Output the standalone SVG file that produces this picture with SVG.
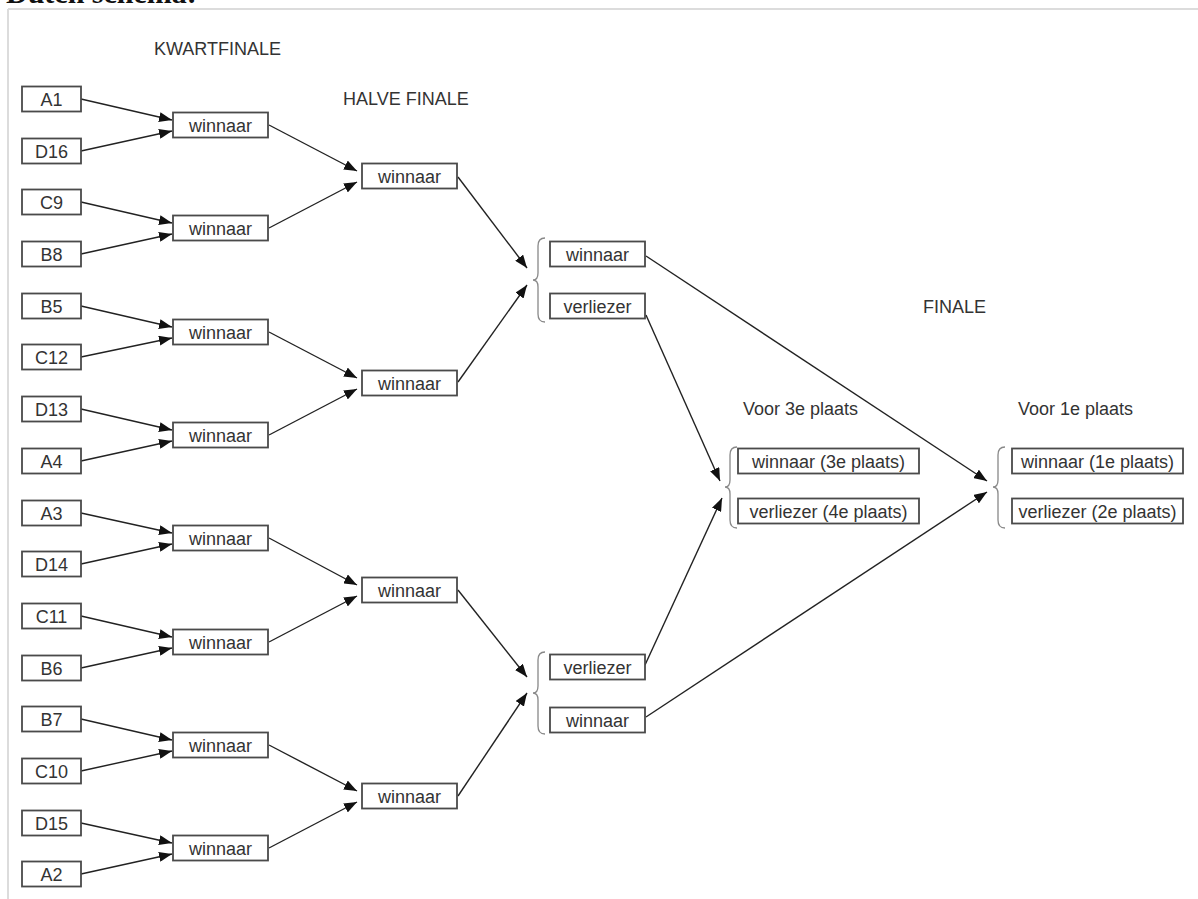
<svg xmlns="http://www.w3.org/2000/svg" width="1198" height="899" viewBox="0 0 1198 899">
<style>
.t{font-family:"Liberation Sans",Arial,sans-serif;font-size:18px;fill:#333}
.c{text-anchor:middle}
.b{fill:#fff;stroke:#4a4a4a;stroke-width:1.8}
.l{fill:none;stroke:#222;stroke-width:1.4;marker-end:url(#ah)}
.br{fill:none;stroke:#888;stroke-width:1.3}
</style>
<defs>
<marker id="ah" markerUnits="userSpaceOnUse" markerWidth="13" markerHeight="10" refX="13" refY="5" orient="auto">
<path d="M0,0 L13,5 L0,10 z" fill="#111"/>
</marker>
</defs>
<rect width="1198" height="899" fill="#fff"/>
<text x="6" y="3" style="font-family:'Liberation Serif','Times New Roman',serif;font-weight:bold;font-size:30px;fill:#111">Dutch schema:</text>
<path d="M8,9 H1198 M8,9 V899" fill="none" stroke="#dcdcdc" stroke-width="2"/>
<g id="headers">
<text class="t" x="154" y="55">KWARTFINALE</text>
<text class="t" x="343" y="105">HALVE FINALE</text>
<text class="t" x="923" y="313">FINALE</text>
<text class="t" x="743" y="415">Voor 3e plaats</text>
<text class="t" x="1018" y="415">Voor 1e plaats</text>
</g>
<g id="connectors">
<path class="l" d="M81,99 L172,120"/>
<path class="l" d="M81,151 L172,131"/>
<path class="l" d="M81,202 L172,223"/>
<path class="l" d="M81,254 L172,234"/>
<path class="l" d="M81,306 L172,327"/>
<path class="l" d="M81,357 L172,338"/>
<path class="l" d="M81,409 L172,430"/>
<path class="l" d="M81,461 L172,441"/>
<path class="l" d="M81,513 L172,533"/>
<path class="l" d="M81,564 L172,544"/>
<path class="l" d="M81,616 L172,637"/>
<path class="l" d="M81,668 L172,648"/>
<path class="l" d="M81,719 L172,740"/>
<path class="l" d="M81,771 L172,751"/>
<path class="l" d="M81,823 L172,843"/>
<path class="l" d="M81,874 L172,854"/>
<path class="l" d="M269,125 L357,171"/>
<path class="l" d="M269,228 L357,182"/>
<path class="l" d="M269,332 L357,378"/>
<path class="l" d="M269,435 L357,389"/>
<path class="l" d="M269,538 L357,585"/>
<path class="l" d="M269,642 L357,596"/>
<path class="l" d="M269,745 L357,791"/>
<path class="l" d="M269,848 L357,802"/>
<path class="l" d="M458,177 L527,268"/>
<path class="l" d="M458,382 L527,285"/>
<path class="l" d="M458,590 L527,677"/>
<path class="l" d="M458,796 L527,693"/>
<path class="l" d="M646,256 L987,481"/>
<path class="l" d="M646,315 L720,481"/>
<path class="l" d="M645,665 L722,498"/>
<path class="l" d="M646,717 L987,492"/>
</g>
<g id="brackets">
<path class="br" d="M545,238 Q538,238 538,246 L538,273 Q538,280 533,280 Q538,280 538,287 L538,314 Q538,322 545,322"/>
<path class="br" d="M545,652 Q538,652 538,660 L538,686 Q538,693 533,693 Q538,693 538,700 L538,726 Q538,734 545,734"/>
<path class="br" d="M737,447 Q730,447 730,455 L730,480 Q730,487 725,487 Q730,487 730,494 L730,520 Q730,528 737,528"/>
<path class="br" d="M1005,447 Q998,447 998,455 L998,480 Q998,487 993,487 Q998,487 998,494 L998,520 Q998,528 1005,528"/>
</g>
<g id="n-A1"><rect class="b" x="22" y="86.5" width="59" height="25"/><text class="t c" x="51.5" y="105.5">A1</text></g>
<g id="n-D16"><rect class="b" x="22" y="138.5" width="59" height="25"/><text class="t c" x="51.5" y="157.5">D16</text></g>
<g id="n-C9"><rect class="b" x="22" y="189.5" width="59" height="25"/><text class="t c" x="51.5" y="208.5">C9</text></g>
<g id="n-B8"><rect class="b" x="22" y="241.5" width="59" height="25"/><text class="t c" x="51.5" y="260.5">B8</text></g>
<g id="n-B5"><rect class="b" x="22" y="293.5" width="59" height="25"/><text class="t c" x="51.5" y="312.5">B5</text></g>
<g id="n-C12"><rect class="b" x="22" y="344.5" width="59" height="25"/><text class="t c" x="51.5" y="363.5">C12</text></g>
<g id="n-D13"><rect class="b" x="22" y="396.5" width="59" height="25"/><text class="t c" x="51.5" y="415.5">D13</text></g>
<g id="n-A4"><rect class="b" x="22" y="448.5" width="59" height="25"/><text class="t c" x="51.5" y="467.5">A4</text></g>
<g id="n-A3"><rect class="b" x="22" y="500.5" width="59" height="25"/><text class="t c" x="51.5" y="519.5">A3</text></g>
<g id="n-D14"><rect class="b" x="22" y="551.5" width="59" height="25"/><text class="t c" x="51.5" y="570.5">D14</text></g>
<g id="n-C11"><rect class="b" x="22" y="603.5" width="59" height="25"/><text class="t c" x="51.5" y="622.5">C11</text></g>
<g id="n-B6"><rect class="b" x="22" y="655.5" width="59" height="25"/><text class="t c" x="51.5" y="674.5">B6</text></g>
<g id="n-B7"><rect class="b" x="22" y="706.5" width="59" height="25"/><text class="t c" x="51.5" y="725.5">B7</text></g>
<g id="n-C10"><rect class="b" x="22" y="758.5" width="59" height="25"/><text class="t c" x="51.5" y="777.5">C10</text></g>
<g id="n-D15"><rect class="b" x="22" y="810.5" width="59" height="25"/><text class="t c" x="51.5" y="829.5">D15</text></g>
<g id="n-A2"><rect class="b" x="22" y="861.5" width="59" height="25"/><text class="t c" x="51.5" y="880.5">A2</text></g>
<g id="qf1"><rect class="b" x="173" y="112.5" width="95" height="25"/><text class="t c" x="220.5" y="131.5">winnaar</text></g>
<g id="qf2"><rect class="b" x="173" y="215.5" width="95" height="25"/><text class="t c" x="220.5" y="234.5">winnaar</text></g>
<g id="qf3"><rect class="b" x="173" y="319.5" width="95" height="25"/><text class="t c" x="220.5" y="338.5">winnaar</text></g>
<g id="qf4"><rect class="b" x="173" y="422.5" width="95" height="25"/><text class="t c" x="220.5" y="441.5">winnaar</text></g>
<g id="qf5"><rect class="b" x="173" y="525.5" width="95" height="25"/><text class="t c" x="220.5" y="544.5">winnaar</text></g>
<g id="qf6"><rect class="b" x="173" y="629.5" width="95" height="25"/><text class="t c" x="220.5" y="648.5">winnaar</text></g>
<g id="qf7"><rect class="b" x="173" y="732.5" width="95" height="25"/><text class="t c" x="220.5" y="751.5">winnaar</text></g>
<g id="qf8"><rect class="b" x="173" y="835.5" width="95" height="25"/><text class="t c" x="220.5" y="854.5">winnaar</text></g>
<g id="sf1"><rect class="b" x="362" y="163.5" width="95" height="25"/><text class="t c" x="409.5" y="182.5">winnaar</text></g>
<g id="sf2"><rect class="b" x="362" y="370.5" width="95" height="25"/><text class="t c" x="409.5" y="389.5">winnaar</text></g>
<g id="sf3"><rect class="b" x="362" y="577.5" width="95" height="25"/><text class="t c" x="409.5" y="596.5">winnaar</text></g>
<g id="sf4"><rect class="b" x="362" y="783.5" width="95" height="25"/><text class="t c" x="409.5" y="802.5">winnaar</text></g>
<g id="h1w"><rect class="b" x="550" y="241.5" width="95" height="25"/><text class="t c" x="597.5" y="260.5">winnaar</text></g>
<g id="h1v"><rect class="b" x="550" y="293.5" width="95" height="25"/><text class="t c" x="597.5" y="312.5">verliezer</text></g>
<g id="h2v"><rect class="b" x="550" y="654.5" width="95" height="25"/><text class="t c" x="597.5" y="673.5">verliezer</text></g>
<g id="h2w"><rect class="b" x="550" y="707.5" width="95" height="25"/><text class="t c" x="597.5" y="726.5">winnaar</text></g>
<g id="f3w"><rect class="b" x="738" y="448.5" width="181" height="25"/><text class="t c" x="828.5" y="467.5">winnaar (3e plaats)</text></g>
<g id="f3v"><rect class="b" x="738" y="498.5" width="181" height="25"/><text class="t c" x="828.5" y="517.5">verliezer (4e plaats)</text></g>
<g id="f1w"><rect class="b" x="1012" y="448.5" width="171" height="25"/><text class="t c" x="1097.5" y="467.5">winnaar (1e plaats)</text></g>
<g id="f1v"><rect class="b" x="1012" y="498.5" width="171" height="25"/><text class="t c" x="1097.5" y="517.5">verliezer (2e plaats)</text></g>
</svg>
